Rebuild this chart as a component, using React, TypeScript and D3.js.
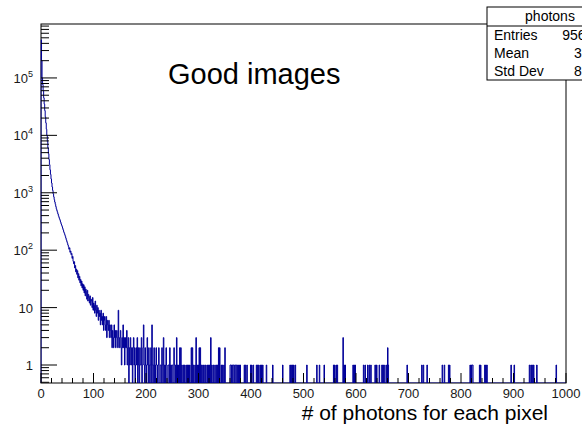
import React from "react";
import * as d3 from "d3";

// Photon counts per 1-photon bin, bins 0..137 (steep part of the spectrum)
const peakCounts: number[] = [
  460000, 200000, 100000, 77000, 59000, 45000, 35000, 27000, 21000, 16500,
  12800, 10000, 7760, 6030, 4790, 3800, 3090, 2510, 2090, 1740,
  1480, 1260, 1100, 955, 850, 760, 690, 630, 575, 525,
  490, 457, 427, 398, 372, 351, 331, 309, 288, 272,
  257, 240, 224, 209, 197, 186, 174, 162, 151, 141,
  132, 123,
  115, 104, 110, 92, 97, 84, 88, 72, 78, 64,
  58, 63, 49, 54, 42, 47, 38, 44, 33, 39,
  30, 35, 27, 31, 24, 29, 22, 26, 20, 25,
  18, 23, 16, 21, 19, 14, 20, 13, 17, 15,
  12, 16, 11, 14, 13, 10, 15, 9, 12, 11,
  8, 13, 9, 7, 11, 8, 10, 6, 9, 7,
  8, 5, 9, 6, 7, 5, 8, 4, 6, 7,
  5, 4, 7, 3, 6, 5, 4, 6, 3, 5,
  4, 3, 5, 2, 4, 3,
];

// Bins 138..259: low, noisy counts
const lowCounts: number[] = [
  2, 5, 3, 4, 2, 3, 4, 3, 2, 9, 3, 2,
  3, 4, 2, 1, 3, 2, 5, 2, 3, 1, 2, 3,
  2, 4, 1, 2, 3, 0, 2, 1, 3, 2, 1, 2,
  0, 2, 3, 1, 2, 0, 1, 2, 1, 3, 0, 2,
  1, 0, 2, 1, 1, 3, 0, 1, 2, 5, 1, 0,
  2, 1, 0, 1, 3, 1, 0, 2, 1, 0, 1, 2,
  0, 5, 1, 0, 1, 2, 0, 1, 0, 2, 1, 1,
  0, 1, 2, 0, 0, 1, 1, 0, 2, 1, 0, 3,
  1, 0, 1, 0, 2, 1, 0, 0, 1, 1, 0, 2,
  0, 1, 0, 1, 1, 0, 0, 2, 1, 0, 1, 0,
  3, 0,
];
const lowStart = 138;

// Tail: [bin, count] for the few non-empty bins above 260 photons
const tailBins: [number, number][] = [
  [260, 1], [262, 1], [264, 2], [266, 2], [268, 1], [271, 1], [273, 1], [276, 1],
  [279, 1], [281, 1], [283, 1], [286, 2], [288, 2], [290, 1], [293, 1], [295, 3],
  [297, 1], [299, 1], [301, 2], [303, 2], [305, 1], [308, 1], [310, 1], [313, 1],
  [316, 1], [318, 1], [320, 1], [323, 3], [325, 1], [328, 1], [331, 1], [334, 1],
  [336, 1], [338, 2], [340, 2], [343, 1], [345, 1], [348, 1], [350, 2],
  [360, 1], [361, 1], [363, 1], [364, 1], [366, 1], [367, 1], [369, 1], [370, 1],
  [372, 1], [373, 1], [375, 1], [377, 1], [379, 1],
  [387, 1], [389, 1], [392, 1], [399, 1], [401, 1], [404, 1],
  [410, 1], [412, 1], [414, 1], [417, 1], [419, 1], [422, 1], [429, 1], [441, 1],
  [460, 1], [474, 1], [476, 1], [479, 1], [481, 1], [484, 1],
  [506, 1], [525, 1], [530, 1], [539, 1],
  [557, 1], [559, 1], [562, 1], [564, 1], [575, 3], [577, 1], [579, 1],
  [594, 1], [596, 1], [598, 1], [614, 1], [617, 1], [622, 1], [625, 1], [628, 1],
  [636, 1], [639, 1], [644, 1], [649, 1], [651, 1], [653, 1],
  [657, 1], [660, 2], [661, 1], [697, 1], [725, 1], [728, 1], [735, 1],
  [764, 1], [768, 1], [776, 1], [778, 1], [817, 1], [819, 1], [821, 1], [822, 1],
  [835, 1], [837, 1], [845, 1], [847, 1], [849, 1], [895, 1], [901, 1],
  [930, 1], [933, 1], [935, 1], [938, 1], [944, 1], [981, 1],
];

const nBins = 1000;
const xMin = 0;
const xMax = 1000;
const yLow = 0.486;
const yHigh = 8.7e5;

const xTickValues = d3.range(0, 1001, 20);
const xMajorValues = d3.range(0, 1001, 100);
const yDecades = [0, 1, 2, 3, 4, 5];

const statsTitle = "photons";
const statsRows: [string, string][] = [
  ["Entries", "956288"],
  ["Mean", "3.184"],
  ["Std Dev", "8.427"],
];

const W = 582;
const H = 428;
const frame = { left: 41, right: 566, top: 24, bottom: 383 };
const lineColor = "#000099";
const font = "'Liberation Sans', Arial, Helvetica, sans-serif";

export default function App() {
  const counts = new Array(nBins).fill(0);
  peakCounts.forEach((c, i) => (counts[i] = c));
  lowCounts.forEach((c, i) => (counts[lowStart + i] = c));
  tailBins.forEach(([b, c]) => (counts[b] = c));

  const x = d3.scaleLinear().domain([xMin, xMax]).range([frame.left, frame.right]);
  const y = d3.scaleLog().domain([yLow, yHigh]).range([frame.bottom, frame.top]);
  const bw = (xMax - xMin) / nBins;

  const yOf = (c: number) =>
    c > 0 ? Math.max(frame.top, Math.min(frame.bottom, y(c))) : frame.bottom;

  const p = d3.path();
  p.moveTo(x(xMin), frame.bottom);
  counts.forEach((c, i) => {
    const yy = yOf(c);
    p.lineTo(x(xMin + i * bw), yy);
    p.lineTo(x(xMin + (i + 1) * bw), yy);
  });
  p.lineTo(x(xMax), frame.bottom);

  // Log axis minor ticks
  const yMinor: number[] = [];
  for (let e = -1; e <= 5; e++) {
    for (let m = 2; m <= 9; m++) {
      const v = m * Math.pow(10, e);
      if (v >= yLow && v <= yHigh) yMinor.push(v);
    }
  }

  const box = { x: 487, y: 7, w: 126, h: 73, sep: 26 };

  return (
    <svg
      width={W}
      height={H}
      style={{ position: "absolute", left: 0, top: 0, background: "#fff" }}
      fontFamily={font}
    >
      <rect x={0} y={0} width={W} height={H} fill="#fff" />
      <defs>
        <clipPath id="plotclip">
          <rect
            x={frame.left - 0.5}
            y={frame.top}
            width={frame.right - frame.left + 1}
            height={frame.bottom - frame.top}
          />
        </clipPath>
      </defs>

      {/* frame */}
      <rect
        x={frame.left}
        y={frame.top}
        width={frame.right - frame.left}
        height={frame.bottom - frame.top}
        fill="none"
        stroke="#000"
        strokeWidth={1}
      />

      <path
        d={p.toString()}
        fill="none"
        stroke={lineColor}
        strokeWidth={1}
        clipPath="url(#plotclip)"
      />

      {/* x axis ticks */}
      {xTickValues.map((v) => {
        const major = v % 100 === 0;
        return (
          <line
            key={"xt" + v}
            x1={x(v)}
            x2={x(v)}
            y1={frame.bottom}
            y2={frame.bottom - (major ? 10 : 5)}
            stroke="#000"
            strokeWidth={1}
          />
        );
      })}
      {xMajorValues.map((v) => (
        <text
          key={"xl" + v}
          x={x(v)}
          y={398}
          fontSize={13}
          textAnchor="middle"
          fill="#1a1a1a"
        >
          {v}
        </text>
      ))}

      {/* y axis ticks */}
      {yDecades.map((e) => {
        const v = Math.pow(10, e);
        return (
          <line
            key={"yM" + e}
            x1={frame.left}
            x2={frame.left + 16}
            y1={y(v)}
            y2={y(v)}
            stroke="#000"
            strokeWidth={1}
          />
        );
      })}
      {yMinor.map((v, i) => (
        <line
          key={"ym" + i}
          x1={frame.left}
          x2={frame.left + 8}
          y1={y(v)}
          y2={y(v)}
          stroke="#000"
          strokeWidth={1}
        />
      ))}
      {yDecades.map((e) => {
        const v = Math.pow(10, e);
        const yy = y(v) + 5;
        if (e <= 1) {
          return (
            <text key={"yl" + e} x={33} y={yy} fontSize={13} textAnchor="end" fill="#1a1a1a">
              {e === 0 ? "1" : "10"}
            </text>
          );
        }
        return (
          <text key={"yl" + e} x={33} y={yy} fontSize={13} textAnchor="end" fill="#1a1a1a">
            10
            <tspan fontSize={9} dy={-6}>
              {e}
            </tspan>
          </text>
        );
      })}

      {/* title */}
      <text x={168} y={84} fontSize={29} fill="#000">
        Good images
      </text>

      {/* x axis title */}
      <text x={548} y={420} fontSize={21} textAnchor="end" fill="#000">
        # of photons for each pixel
      </text>

      {/* statistics box */}
      <rect x={box.x} y={box.y} width={box.w} height={box.h} fill="#fff" stroke="#000" strokeWidth={1} />
      <line x1={box.x} x2={box.x + box.w} y1={box.sep} y2={box.sep} stroke="#000" strokeWidth={1} />
      <text x={box.x + box.w / 2} y={21} fontSize={14} textAnchor="middle" fill="#000">
        {statsTitle}
      </text>
      {statsRows.map(([k, v], i) => (
        <g key={k}>
          <text x={box.x + 7} y={40 + i * 18} fontSize={14} fill="#000">
            {k}
          </text>
          <text x={box.x + box.w - 4} y={40 + i * 18} fontSize={14} textAnchor="end" fill="#000">
            {v}
          </text>
        </g>
      ))}
    </svg>
  );
}
